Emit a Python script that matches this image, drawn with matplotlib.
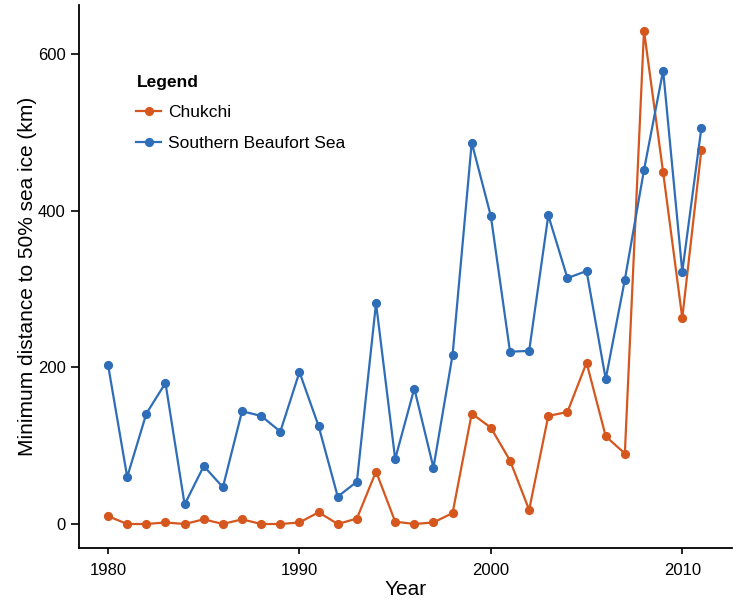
import matplotlib
matplotlib.use("Agg")
import matplotlib.pyplot as plt

years = list(range(1980, 2012))

chukchi = [10, 0, 0, 2, 0, 6, 0, 6, 0, 0, 2, 15, 0, 7, 67, 3, 0, 2, 14,
           141, 123, 81, 18, 138, 143, 206, 112, 90, 630, 449, 263, 478]

southern_beaufort = [203, 60, 141, 180, 25, 74, 47, 144, 138, 118, 194, 125,
                     35, 54, 282, 83, 173, 72, 216, 487, 393, 220, 221, 394,
                     314, 323, 185, 312, 452, 579, 322, 506]

x_ticks = [1980, 1990, 2000, 2010]
y_ticks = [0, 200, 400, 600]

orange = "#D5571E"
blue = "#2E6DB8"

plt.rcParams["font.family"] = ["Liberation Sans", "DejaVu Sans"]

fig = plt.figure(figsize=(7.45, 6.12), dpi=100)
ax = fig.add_axes([0.106, 0.1046, 0.8766, 0.8872])

ax.plot(years, chukchi, color=orange, lw=1.6, marker="o", ms=5.6,
        label="Chukchi")
ax.plot(years, southern_beaufort, color=blue, lw=1.6, marker="o", ms=5.6,
        label="Southern Beaufort Sea")

ax.set_xlim(1978.48, 2012.6)
ax.set_ylim(-30.6, 662.6)
ax.set_xticks(x_ticks)
ax.set_yticks(y_ticks)

for side in ("top", "right"):
    ax.spines[side].set_visible(False)
for side in ("left", "bottom"):
    ax.spines[side].set_linewidth(1.3)
    ax.spines[side].set_color("black")

ax.tick_params(axis="both", width=1.2, labelsize=12, colors="black")
ax.tick_params(axis="x", length=4.5, pad=6)
ax.tick_params(axis="y", length=6, pad=3.5)

ax.set_xlabel("Year", fontsize=15, labelpad=2)
ax.set_ylabel("Minimum distance to 50% sea ice (km)", fontsize=15,
              labelpad=0.5)

leg = ax.legend(loc="upper left", bbox_to_anchor=(0.088, 0.872),
                frameon=False, title="Legend", fontsize=12.5,
                title_fontproperties={"weight": "bold", "size": 12.5},
                handlelength=1.42, handletextpad=0.42, labelspacing=0.9,
                alignment="left", borderaxespad=0.0, borderpad=0.0)

fig.savefig("out.png", dpi=100)
